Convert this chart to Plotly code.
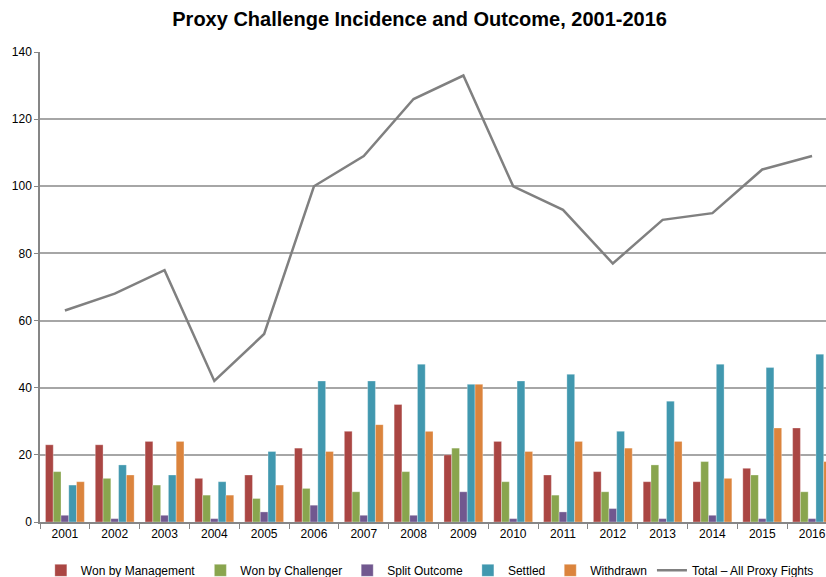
import plotly.graph_objects as go

years = [str(y) for y in range(2001, 2017)]
won_mgmt = [23, 23, 24, 13, 14, 22, 27, 35, 20, 24, 14, 15, 12, 12, 16, 28]
won_chal = [15, 13, 11, 8, 7, 10, 9, 15, 22, 12, 8, 9, 17, 18, 14, 9]
split = [2, 1, 2, 1, 3, 5, 2, 2, 9, 1, 3, 4, 1, 2, 1, 1]
settled = [11, 17, 14, 12, 21, 42, 42, 47, 41, 42, 44, 27, 36, 47, 46, 50]
withdrawn = [12, 14, 24, 8, 11, 21, 29, 27, 41, 21, 24, 22, 24, 13, 28, 18]
total = [63, 68, 75, 42, 56, 100, 109, 126, 133, 100, 93, 77, 90, 92, 105, 109]

font = "Liberation Sans, Arial, sans-serif"

fig = go.Figure()
series = [
    ("Won by Management", won_mgmt, "#AA4643"),
    ("Won by Challenger", won_chal, "#89A54E"),
    ("Split Outcome", split, "#71588F"),
    ("Settled", settled, "#4198AF"),
    ("Withdrawn", withdrawn, "#DB843D"),
]
for name, vals, col in series:
    fig.add_trace(go.Bar(x=years, y=vals, name=name,
                         marker=dict(color=col, line=dict(color="rgba(255,255,255,0.6)", width=0.5))))
fig.add_trace(go.Scatter(x=years, y=total, name="Total \u2013 All Proxy Fights", mode="lines",
                         line=dict(color="#808080", width=2.5)))

fig.update_layout(
    width=826, height=577,
    paper_bgcolor="white", plot_bgcolor="white",
    margin=dict(l=40, r=0, t=52, b=55, autoexpand=False),
    title=dict(text="<b>Proxy Challenge Incidence and Outcome, 2001-2016</b>",
               x=0.508, xanchor="center", y=0.979, yanchor="top",
               font=dict(family=font, size=20, color="#000000")),
    barmode="group", bargap=0.22, bargroupgap=0,
    font=dict(family=font, size=11, color="#000000"),
    legend=dict(orientation="h", x=0.496, xanchor="center", y=-0.072, yanchor="top",
                font=dict(family=font, size=12), itemwidth=30, tracegroupgap=0),
    showlegend=True,
)
fig.update_xaxes(type="category", range=[-0.5, 15.28], showline=True, linecolor="#868686", linewidth=1.5,
                 ticks="outside", tickson="boundaries", ticklen=5, tickcolor="#868686",
                 tickfont=dict(family=font, size=12), showgrid=False, ticklabeloverflow="allow")
fig.update_yaxes(range=[0, 140], dtick=20, showline=True, linecolor="#868686", linewidth=1.5,
                 ticks="outside", ticklen=4, tickcolor="#868686",
                 gridcolor="#A6A6A6", gridwidth=1.5, zeroline=False,
                 tickfont=dict(family=font, size=12))

fig.write_html("out.html", config={"displayModeBar": False},
               post_script="document.body.style.margin='0';document.body.style.overflow='hidden';")
